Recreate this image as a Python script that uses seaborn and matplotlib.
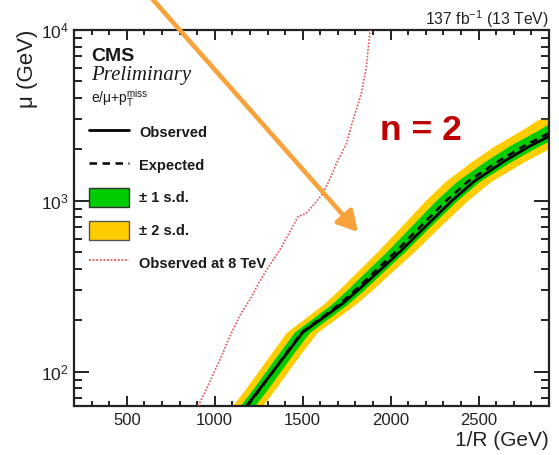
import matplotlib
matplotlib.use("Agg")
import matplotlib.pyplot as plt
import seaborn as sns
import pandas as pd
from matplotlib.lines import Line2D
from matplotlib.patches import Patch
from matplotlib.ticker import LogLocator, MultipleLocator, NullFormatter, LogFormatterSciNotation

# ---- data ----
mu = [63, 80, 100, 130, 170, 210, 250, 300, 400, 500, 700, 1000, 1300, 1700, 2100, 2600, 3000]
obs_x = [1181, 1258, 1330, 1414, 1500, 1624, 1725, 1814, 1947, 2049, 2193, 2347, 2474, 2643, 2793, 2972, 3080]
exp_x = [1185, 1262, 1330, 1410, 1495, 1615, 1712, 1798, 1925, 2025, 2165, 2315, 2440, 2610, 2760, 2935, 3040]
lo2_x = [1100, 1177, 1245, 1325, 1407, 1525, 1620, 1703, 1825, 1920, 2055, 2195, 2310, 2460, 2590, 2745, 2840]
hi2_x = [1270, 1347, 1415, 1495, 1583, 1705, 1804, 1893, 2025, 2130, 2275, 2435, 2570, 2760, 2930, 3125, 3240]
lo1_x = [1143, 1220, 1288, 1368, 1451, 1570, 1666, 1750, 1875, 1973, 2110, 2255, 2375, 2535, 2675, 2840, 2940]
hi1_x = [1227, 1304, 1372, 1452, 1539, 1660, 1758, 1846, 1975, 2077, 2220, 2375, 2505, 2685, 2845, 3030, 3140]

x8 = [906, 960, 1030, 1095, 1150, 1200, 1250, 1294, 1370, 1444, 1473, 1521, 1578, 1616, 1660, 1692, 1749, 1786, 1834, 1862, 1881, 1885]
y8 = [63, 82, 118, 169, 220, 264, 330, 394, 516, 708, 809, 847, 991, 1110, 1380, 1660, 2173, 2976, 4267, 6100, 9560, 10000]

x_ticks = [500, 1000, 1500, 2000, 2500]
legend_labels = ["Observed", "Expected", "\u00b1 1 s.d.", "\u00b1 2 s.d.", "Observed at 8 TeV"]

# ---- style ----
sns.set_theme(style="ticks")
plt.rcParams["font.family"] = ["Liberation Sans", "DejaVu Sans"]
plt.rcParams["mathtext.default"] = "regular"

W, H = 559, 455
fig = plt.figure(figsize=(W / 100, H / 100), dpi=100)
ax = fig.add_axes([74 / W, 1 - 406 / H, (549 - 74) / W, (406 - 30) / H])

GREEN = "#00CC00"
YELLOW = "#FFCC00"
RED = "#E0505A"
TXT = "#1a1a1a"

ax.fill_betweenx(mu, lo2_x, hi2_x, color=YELLOW, lw=0, zorder=1)
ax.fill_betweenx(mu, lo1_x, hi1_x, color=GREEN, lw=0, zorder=2)

df_obs = pd.DataFrame({"x": obs_x, "mu": mu})
df_exp = pd.DataFrame({"x": exp_x, "mu": mu})
df_8 = pd.DataFrame({"x": x8, "mu": y8})
sns.lineplot(data=df_obs, x="x", y="mu", sort=False, estimator=None, color="black", lw=2.0, ax=ax, zorder=4)
sns.lineplot(data=df_exp, x="x", y="mu", sort=False, estimator=None, color="black", lw=1.8,
             linestyle=(0, (3, 2.2)), ax=ax, zorder=5)
sns.lineplot(data=df_8, x="x", y="mu", sort=False, estimator=None, color=RED, lw=1.2,
             linestyle=(0, (1, 1)), ax=ax, zorder=3)

ax.set_yscale("log")
ax.set_xlim(200, 2900)
ax.set_ylim(63, 1e4)

ax.set_xticks(x_ticks)
ax.xaxis.set_minor_locator(MultipleLocator(100))
ax.yaxis.set_major_locator(LogLocator(base=10))
ax.yaxis.set_minor_locator(LogLocator(base=10, subs=[2, 3, 4, 5, 6, 7, 8, 9]))
ax.yaxis.set_major_formatter(LogFormatterSciNotation())
ax.yaxis.set_minor_formatter(NullFormatter())

ax.tick_params(which="both", direction="in", top=True, right=True, bottom=True, left=True,
               width=1.4, color="#222222", labelcolor="#222222")
ax.tick_params(axis="x", which="major", length=7.5, labelsize=12, pad=5)
ax.tick_params(axis="x", which="minor", length=3.8)
ax.tick_params(axis="y", which="major", length=11, labelsize=12.5, pad=4)
ax.tick_params(axis="y", which="minor", length=5.5)
for s in ax.spines.values():
    s.set_linewidth(1.6)
    s.set_color("#222222")
ax.grid(False)

ax.set_xlabel("1/R (GeV)", loc="right", fontsize=15, labelpad=2, color="#222222")
ax.set_ylabel("\u03bc (GeV)", loc="top", fontsize=16, labelpad=2, color="#222222")

# ---- texts ----
fig.text(549 / W, 1 - 25 / H, r"137 fb$^{-1}$ (13 TeV)", ha="right", va="baseline", fontsize=11.3, color="#222222")
fig.text(91 / W, 1 - 61 / H, "CMS", ha="left", va="baseline", fontsize=14, weight="bold", color=TXT)
fig.text(91 / W, 1 - 80 / H, "Preliminary", ha="left", va="baseline", fontsize=15, style="italic",
         family=["Liberation Serif", "DejaVu Serif"], color=TXT)
fig.text(91 / W, 1 - 103 / H, r"e/$\mu$+p$_{T}^{miss}$", ha="left", va="baseline", fontsize=10, color=TXT)
fig.text(421 / W, 1 - 130 / H, "n = 2", ha="center", va="center", fontsize=25.5, weight="bold", color="#C00000")

# ---- legend ----
handles = [
    Line2D([], [], color="black", lw=2.0),
    Line2D([], [], color="black", lw=1.8, linestyle=(0, (3, 2.2))),
    Patch(facecolor=GREEN, edgecolor="#333333", lw=1.0),
    Patch(facecolor=YELLOW, edgecolor="#555555", lw=1.0),
    Line2D([], [], color=RED, lw=1.3, linestyle=(0, (1, 1))),
]
leg = ax.legend(handles, legend_labels, loc="upper left", bbox_to_anchor=(89 / W, 1 - 123 / H),
                bbox_transform=fig.transFigure, frameon=False, borderpad=0, borderaxespad=0,
                handlelength=2.75, handleheight=1.6, labelspacing=0.95, handletextpad=0.68,
                prop={"weight": "bold", "size": 10.5})
for t in leg.get_texts():
    t.set_color(TXT)

# ---- orange arrow (annotation) ----
ax.annotate("", xy=(358, H - 232), xycoords="figure pixels", xytext=(148, H + 6), textcoords="figure pixels",
            arrowprops=dict(arrowstyle="-|>,head_length=0.8,head_width=0.45", color="#F7A23A", lw=3.3,
                            mutation_scale=15, shrinkA=0, shrinkB=0),
            annotation_clip=False, zorder=10)

fig.savefig("out.png", dpi=100)
